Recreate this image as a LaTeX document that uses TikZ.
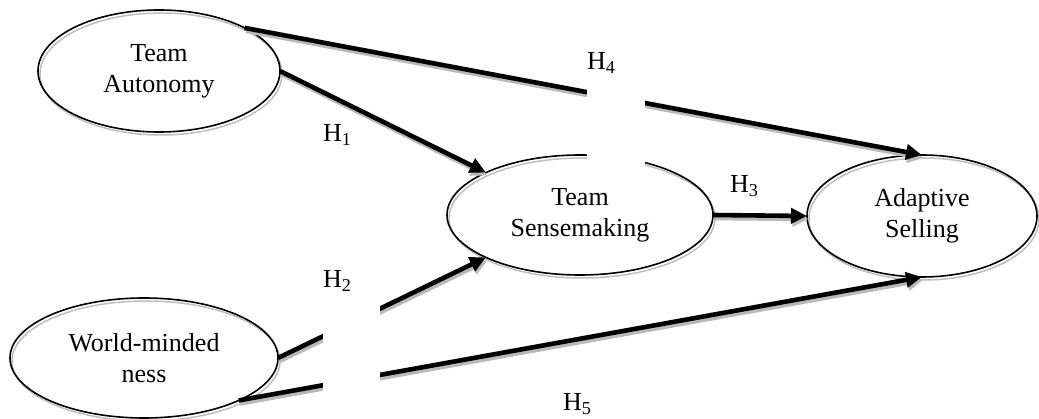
\documentclass[tikz,border=0pt]{standalone}
\usepackage{fontspec}
\setmainfont{Liberation Serif}
\usetikzlibrary{shapes.geometric,arrows.meta,calc}
\tikzset{
  ell/.style={ellipse, draw=black, line width=1.6pt, inner sep=0pt, outer sep=0pt,
    align=center, font=\fontsize{26}{31}\selectfont,
    preaction={draw=gray!50, line width=1.5pt, transform canvas={shift={(2pt,-3pt)}}}},
  arr/.style={line width=4.6pt, -{Triangle[length=16pt,width=15pt]}},
  arrshadow/.style={arr, draw=gray!55, fill=gray!55},
  hlabel/.style={anchor=base west, inner sep=0pt, font=\fontsize{26}{31}\selectfont},
  gapbox/.style={fill=white, draw=none}
}
\newcommand{\hyparrow}[2]{%
  \draw[arrshadow] ($(#1)+(1.5pt,-3pt)$) -- ($(#2)+(1.5pt,-3pt)$);
  \draw[arr] (#1) -- (#2);}
\begin{document}
\begin{tikzpicture}[x=1pt,y=-1pt]
\useasboundingbox (0,0) rectangle (1039,419);
\node[ell, minimum width=242pt, minimum height=122pt] (ta) at (159,71) {Team\\Autonomy};
\node[ell, minimum width=266pt, minimum height=120pt] (ts) at (580,215) {Team\\Sensemaking};
\node[ell, minimum width=230pt, minimum height=122pt] (as) at (922,216) {Adaptive\\Selling};
\node[ell, minimum width=268pt, minimum height=120pt] (wm) at (144,358) {World-minded\\ness};

\hyparrow{ta.north east}{as.north}
\hyparrow{ta.east}{ts.north west}
\hyparrow{wm.east}{ts.south west}
\hyparrow{wm.south east}{as.south}
\hyparrow{ts.east}{as.west}

\fill[gapbox] (587,77) rectangle (645,176);
\fill[gapbox] (323,295) rectangle (380,400);

\node[hlabel] (h1) at (323,142) {H\textsubscript{1}};
\node[hlabel] (h2) at (323,288) {H\textsubscript{2}};
\node[hlabel] (h3) at (730,193) {H\textsubscript{3}};
\node[hlabel] (h4) at (587,70) {H\textsubscript{4}};
\node[hlabel] (h5) at (563,411) {H\textsubscript{5}};
\end{tikzpicture}
\end{document}
